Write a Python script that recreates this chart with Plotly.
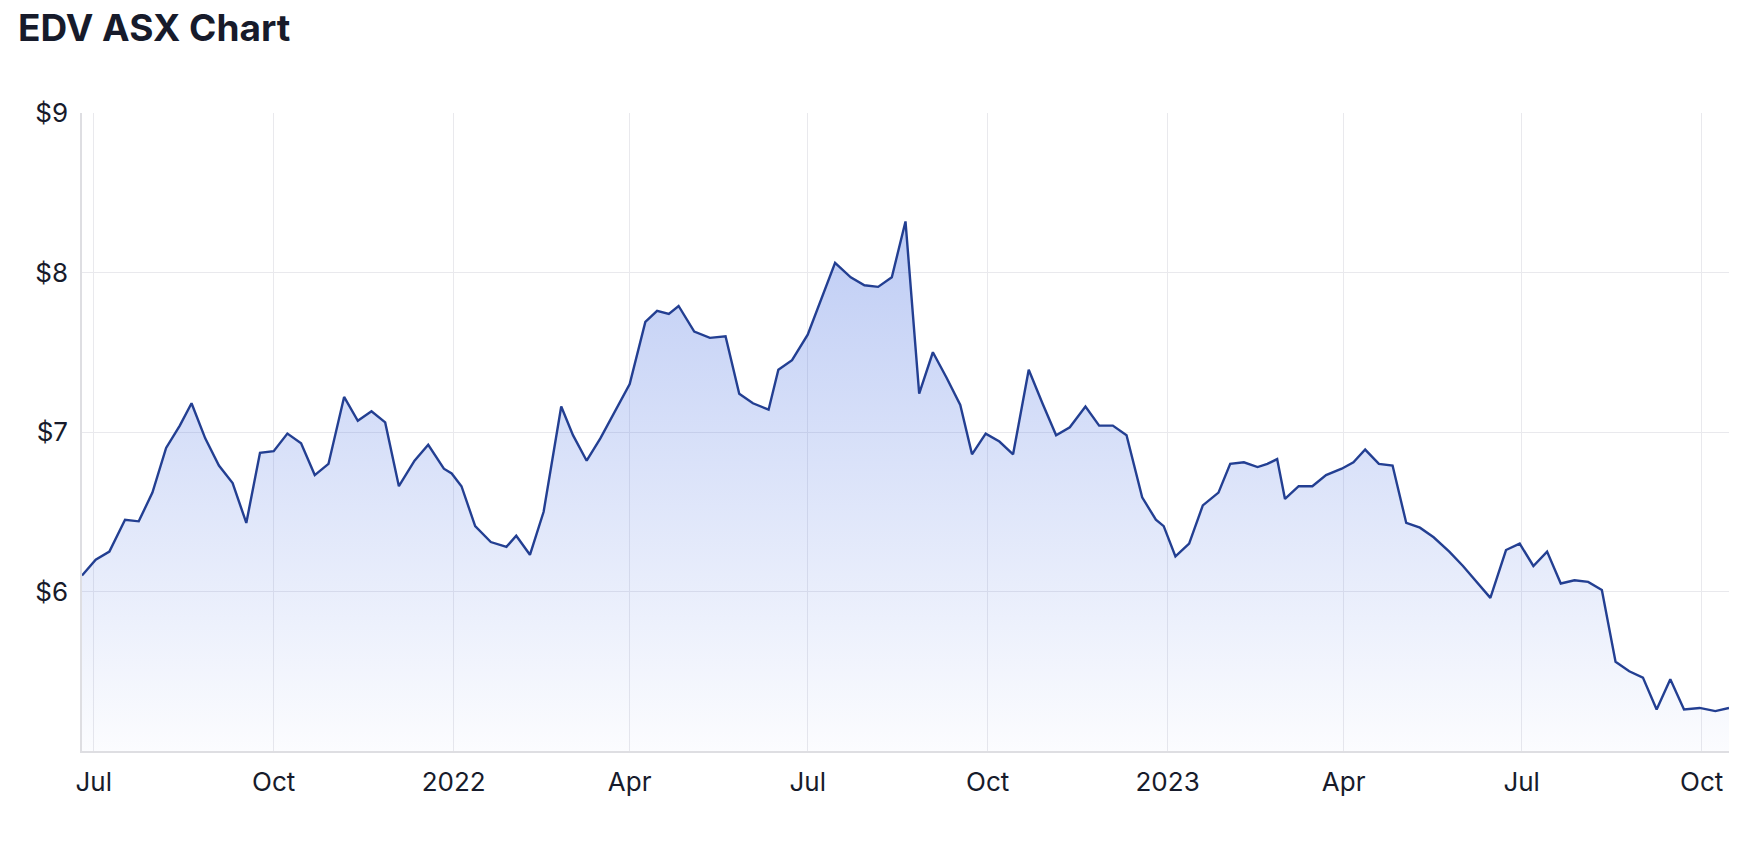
import plotly.graph_objects as go

# ---- data (weekly closes) ----
dates = [
    "2021-06-25", "2021-07-02", "2021-07-09", "2021-07-17", "2021-07-24", "2021-07-31",
    "2021-08-07", "2021-08-14", "2021-08-20", "2021-08-27", "2021-09-03", "2021-09-10",
    "2021-09-17", "2021-09-24", "2021-10-01", "2021-10-08", "2021-10-15", "2021-10-22",
    "2021-10-29", "2021-11-06", "2021-11-13", "2021-11-20", "2021-11-27", "2021-12-04",
    "2021-12-12", "2021-12-19", "2021-12-27", "2021-12-31", "2022-01-05", "2022-01-12",
    "2022-01-20", "2022-01-28", "2022-02-02", "2022-02-09", "2022-02-16", "2022-02-25",
    "2022-03-03", "2022-03-10", "2022-03-17", "2022-03-24", "2022-04-01", "2022-04-09",
    "2022-04-15", "2022-04-21", "2022-04-26", "2022-05-04", "2022-05-12", "2022-05-20",
    "2022-05-27", "2022-06-03", "2022-06-11", "2022-06-16", "2022-06-23", "2022-07-01",
    "2022-07-08", "2022-07-15", "2022-07-23", "2022-07-30", "2022-08-06", "2022-08-13",
    "2022-08-20", "2022-08-27", "2022-09-03", "2022-09-10", "2022-09-17", "2022-09-23",
    "2022-09-30", "2022-10-07", "2022-10-14", "2022-10-22", "2022-10-29", "2022-11-05",
    "2022-11-12", "2022-11-20", "2022-11-27", "2022-12-04", "2022-12-11", "2022-12-19",
    "2022-12-26", "2022-12-30", "2023-01-05", "2023-01-12", "2023-01-19", "2023-01-27",
    "2023-02-02", "2023-02-09", "2023-02-16", "2023-02-21", "2023-02-26", "2023-03-02",
    "2023-03-09", "2023-03-16", "2023-03-23", "2023-03-31", "2023-04-06", "2023-04-12",
    "2023-04-19", "2023-04-26", "2023-05-03", "2023-05-10", "2023-05-17", "2023-05-25",
    "2023-06-01", "2023-06-08", "2023-06-15", "2023-06-23", "2023-06-30", "2023-07-07",
    "2023-07-14", "2023-07-21", "2023-07-28", "2023-08-04", "2023-08-11", "2023-08-18",
    "2023-08-25", "2023-09-01", "2023-09-08", "2023-09-15", "2023-09-22", "2023-09-30",
    "2023-10-08", "2023-10-15",
]

prices = [
    6.10, 6.20, 6.25, 6.45, 6.44, 6.62,
    6.90, 7.04, 7.18, 6.96, 6.79, 6.68,
    6.43, 6.87, 6.88, 6.99, 6.93, 6.73,
    6.80, 7.22, 7.07, 7.13, 7.06, 6.66,
    6.82, 6.92, 6.77, 6.74, 6.66, 6.41,
    6.31, 6.28, 6.35, 6.23, 6.50, 7.16,
    6.98, 6.82, 6.96, 7.12, 7.30, 7.69,
    7.76, 7.74, 7.79, 7.63, 7.59, 7.60,
    7.24, 7.18, 7.14, 7.39, 7.45, 7.61,
    7.83, 8.06, 7.97, 7.92, 7.91, 7.97,
    8.32, 7.24, 7.50, 7.34, 7.17, 6.86,
    6.99, 6.94, 6.86, 7.39, 7.18, 6.98,
    7.03, 7.16, 7.04, 7.04, 6.98, 6.59,
    6.45, 6.41, 6.22, 6.30, 6.54, 6.62,
    6.80, 6.81, 6.78, 6.80, 6.83, 6.58,
    6.66, 6.66, 6.73, 6.77, 6.81, 6.89,
    6.80, 6.79, 6.43, 6.40, 6.34, 6.25,
    6.16, 6.06, 5.96, 6.26, 6.30, 6.16,
    6.25, 6.05, 6.07, 6.06, 6.01, 5.56,
    5.50, 5.46, 5.26, 5.45, 5.26, 5.27,
    5.25, 5.27,
]

x_tick_dates = ["2021-07-01", "2021-10-01", "2022-01-01", "2022-04-01", "2022-07-01",
                "2022-10-01", "2023-01-01", "2023-04-01", "2023-07-01", "2023-10-01"]
x_tick_labels = ["Jul", "Oct", "2022", "Apr", "Jul", "Oct", "2023", "Apr", "Jul", "Oct"]
y_tick_values = [6, 7, 8, 9]
y_tick_labels = ["$6", "$7", "$8", "$9"]
y_range = [5, 9]

LINE = "#233f92"
GRID = "#e9e9ed"
TEXT = "#171b2b"
TICK_FONT = dict(family="Inter, Roboto, sans-serif", size=26, color=TEXT)

fig = go.Figure()
fig.add_trace(go.Scatter(
    x=dates, y=prices, mode="lines",
    line=dict(color=LINE, width=2.4),
    fill="tozeroy",
    fillgradient=dict(
        type="vertical",
        start=5, stop=8.32,
        colorscale=[[0, "rgba(70,110,225,0.02)"], [1, "rgba(70,110,225,0.35)"]],
    ),
    hoverinfo="skip",
))

fig.update_layout(
    width=1742, height=850,
    margin=dict(l=82, r=13, t=113, b=99),
    paper_bgcolor="white", plot_bgcolor="white",
    showlegend=False,
    title=dict(
        text="EDV ASX Chart",
        x=18 / 1742, xanchor="left", xref="container",
        y=1 - 28 / 850, yanchor="middle", yref="container",
        font=dict(family="Inter, Roboto, sans-serif", size=37, color=TEXT, weight=700),
    ),
)

fig.update_xaxes(
    type="date",
    range=[dates[0], dates[-1]],
    tickvals=x_tick_dates, ticktext=x_tick_labels,
    showgrid=True, gridcolor=GRID, gridwidth=1,
    showline=True, linecolor="#dedee2", linewidth=1.5,
    ticks="", ticklabelstandoff=7,
    tickfont=TICK_FONT,
    zeroline=False,
)
fig.update_yaxes(
    range=y_range,
    tickvals=y_tick_values, ticktext=y_tick_labels,
    showgrid=True, gridcolor=GRID, gridwidth=1,
    showline=True, linecolor="#dedee2", linewidth=1.5,
    ticks="", ticklabelstandoff=7,
    tickfont=TICK_FONT,
    zeroline=False,
)

fig.write_html(
    "out.html",
    config={"displayModeBar": False},
    post_script="document.body.style.margin='0';",
)
